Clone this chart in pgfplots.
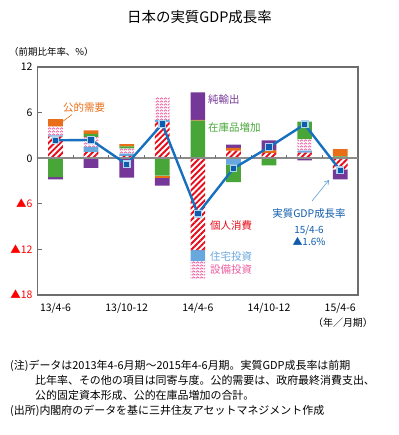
\documentclass[border=0pt]{standalone}
\usepackage{pgfplots}
\pgfplotsset{compat=1.18}
\usepackage{fontspec}
\setmainfont{Noto Sans CJK JP}
\usetikzlibrary{patterns,patterns.meta,arrows.meta}

\pgfdeclarepatternformonly{zigzag}{\pgfpointorigin}{\pgfpoint{4bp}{3.4bp}}{\pgfpoint{4bp}{3.4bp}}{%
  \pgfsetlinewidth{0.95bp}%
  \pgfpathmoveto{\pgfpoint{0bp}{0.9bp}}%
  \pgfpathlineto{\pgfpoint{2bp}{2.5bp}}%
  \pgfpathlineto{\pgfpoint{4bp}{0.9bp}}%
  \pgfusepath{stroke}}

\definecolor{cRed}{RGB}{232,10,25}
\definecolor{cBlue}{RGB}{105,168,222}
\definecolor{cPink}{RGB}{236,95,160}
\definecolor{cGreen}{RGB}{72,166,56}
\definecolor{cOrange}{RGB}{232,110,24}
\definecolor{cPurple}{RGB}{118,56,152}
\definecolor{cLine}{RGB}{22,112,192}
\definecolor{cMark}{RGB}{16,92,172}
\definecolor{cMarkB}{RGB}{175,212,242}
\definecolor{cFrame}{RGB}{110,110,110}

\pgfplotsset{
  geom/.style={width=320.3bp,height=228bp,scale only axis,
    at={(37.7bp,-295bp)},anchor=south west,
    xmin=-0.5,xmax=8.5,ymin=-18,ymax=12,enlargelimits=false},
  sred/.style={draw=none,pattern={Lines[angle=45,distance=4.2bp,line width=1.9bp]},pattern color=cRed},
  sblue/.style={draw=none,fill=cBlue},
  spink/.style={draw=none,pattern=zigzag,pattern color=cPink},
  sgreen/.style={draw=none,fill=cGreen},
  sorange/.style={draw=none,fill=cOrange},
  spurple/.style={draw=none,fill=cPurple},
}

\begin{document}
\begin{tikzpicture}
\useasboundingbox (0,0) rectangle (399bp,-435bp);

% positive contributions
\begin{axis}[geom, ybar stacked, bar width=14.7bp,
  axis line style={cFrame,line width=1.1bp},
  xtick={0,2,4,6,8},
  xticklabels={13/4-6,13/10-12,14/4-6,14/10-12,15/4-6},
  x tick style={draw=none},
  ytick={-18,-12,-6,0,6,12},
  yticklabels={\textcolor{red}{▲18},\textcolor{red}{▲12},\textcolor{red}{▲6},0,6,12},
  ytick pos=left, tick align=inside, major tick length=4bp,
  y tick style={cFrame,line width=0.9bp},
  xticklabel style={font=\fontsize{10.5}{12}\selectfont,anchor=base,inner sep=0pt,yshift=-16.5bp},
  yticklabel style={font=\fontsize{10.5}{12}\selectfont,anchor=base east,inner sep=0pt,xshift=-5bp,yshift=-3.8bp},
]
\addplot[sred] coordinates {(0,2.85) (1,0.8) (2,0.3) (3,4.75) (4,0) (5,1.0) (6,0.7) (7,0.75) (8,0)};
\addplot[sblue] coordinates {(0,0.15) (1,0.7) (2,0.3) (3,0.3) (4,0) (5,0) (6,0) (7,0.25) (8,0)};
\addplot[spink] coordinates {(0,1.2) (1,1.3) (2,0.7) (3,3.0) (4,0) (5,0) (6,0) (7,1.5) (8,0)};
\addplot[sgreen] coordinates {(0,0) (1,0.4) (2,0.25) (3,0) (4,4.95) (5,0) (6,0) (7,2.3) (8,0.25)};
\addplot[sorange] coordinates {(0,0.95) (1,0.45) (2,0.3) (3,0) (4,0.1) (5,0.35) (6,0.35) (7,0) (8,0.95)};
\addplot[spurple] coordinates {(0,0) (1,0) (2,0) (3,0) (4,3.6) (5,0.45) (6,1.3) (7,0) (8,0)};
\end{axis}

% negative contributions
\begin{axis}[geom, ybar stacked, bar width=14.7bp, hide axis]
\addplot[sred] coordinates {(0,0) (1,0) (2,0) (3,0) (4,-12.1) (5,0) (6,0) (7,0) (8,-1.5)};
\addplot[sblue] coordinates {(0,0) (1,0) (2,0) (3,0) (4,-1.45) (5,-0.85) (6,0) (7,0) (8,0)};
\addplot[spink] coordinates {(0,0) (1,0) (2,0) (3,0) (4,-2.3) (5,0) (6,0) (7,0) (8,0)};
\addplot[sgreen] coordinates {(0,-2.5) (1,0) (2,0) (3,-2.3) (4,0) (5,-2.3) (6,-0.95) (7,0) (8,0)};
\addplot[sorange] coordinates {(0,0) (1,0) (2,0) (3,-0.3) (4,0) (5,0) (6,0) (7,0) (8,0)};
\addplot[spurple] coordinates {(0,-0.3) (1,-1.27) (2,-2.55) (3,-1.0) (4,0) (5,0) (6,0) (7,-0.3) (8,-1.3)};
\end{axis}

% zero line and GDP growth line
\begin{axis}[geom, hide axis]
\addplot[cFrame!80,line width=1.6bp] coordinates {(-0.5,0) (8.5,0)};
\addplot[cFrame,line width=0.9bp] coordinates {(0.5,0) (0.5,0.45)};
\addplot[cFrame,line width=0.9bp] coordinates {(1.5,0) (1.5,0.45)};
\addplot[cFrame,line width=0.9bp] coordinates {(2.5,0) (2.5,0.45)};
\addplot[cFrame,line width=0.9bp] coordinates {(3.5,0) (3.5,0.45)};
\addplot[cFrame,line width=0.9bp] coordinates {(4.5,0) (4.5,0.45)};
\addplot[cFrame,line width=0.9bp] coordinates {(5.5,0) (5.5,0.45)};
\addplot[cFrame,line width=0.9bp] coordinates {(6.5,0) (6.5,0.45)};
\addplot[cFrame,line width=0.9bp] coordinates {(7.5,0) (7.5,0.45)};
\addplot[cLine,line width=2.4bp,mark=square*,mark size=3.3bp,
  mark options={fill=cMark,draw=cMarkB,line width=1.2bp}]
  coordinates {(0,2.35) (1,2.4) (2,-0.8) (3,4.5) (4,-7.3) (5,-1.35) (6,1.45) (7,4.45) (8,-1.6)};
\end{axis}

% texts
\node[font=\fontsize{14.5}{16}\selectfont] at (199.5bp,-17bp) {日本の実質GDP成長率};
\node[anchor=west,font=\fontsize{9.5}{11}\selectfont,inner sep=0pt] at (9bp,-52bp) {（前期比年率、\%）};
\node[anchor=center,font=\fontsize{10}{12}\selectfont] at (343bp,-323bp) {（年／月期）};

\node[anchor=west,inner sep=0pt,text=cOrange,font=\fontsize{10.5}{12}\selectfont] at (63bp,-108bp) {公的需要};
\draw[cOrange,line width=0.6bp] (72bp,-114.5bp) -- (62bp,-122bp);
\node[anchor=west,inner sep=0pt,text=cPurple,font=\fontsize{10.5}{12}\selectfont] at (208bp,-100bp) {純輸出};
\node[anchor=west,inner sep=0pt,text=cGreen,font=\fontsize{10.5}{12}\selectfont] at (208bp,-128bp) {在庫品増加};
\node[anchor=west,inner sep=0pt,text=cRed,font=\fontsize{10.5}{12}\selectfont] at (210bp,-225.5bp) {個人消費};
\node[anchor=west,inner sep=0pt,text=cBlue,font=\fontsize{10.5}{12}\selectfont] at (210bp,-256.5bp) {住宅投資};
\node[anchor=west,inner sep=0pt,text=cPink,font=\fontsize{10.5}{12}\selectfont] at (210bp,-270bp) {設備投資};

\node[text=cMark,font=\fontsize{10.5}{12}\selectfont] at (309bp,-214bp) {実質GDP成長率};
\node[text=cMark,font=\fontsize{10}{12}\selectfont] at (309bp,-230bp) {15/4-6};
\node[text=cMark,font=\fontsize{10}{12}\selectfont] at (309bp,-241.5bp) {▲1.6\%};
\draw[cLine!70,line width=0.6bp,-{Straight Barb[length=4bp,width=5bp]}] (312bp,-201bp) -- (329bp,-180bp);

% notes
\begin{scope}[every node/.style={anchor=base west,inner sep=0pt,font=\fontsize{11}{13}\selectfont}]
\node at (10bp,-369bp) {(注)データは2013年4-6月期～2015年4-6月期。実質GDP成長率は前期};
\node at (35bp,-384.3bp) {比年率、その他の項目は同寄与度。公的需要は、政府最終消費支出、};
\node at (35bp,-399.6bp) {公的固定資本形成、公的在庫品増加の合計。};
\node at (10bp,-414.9bp) {(出所)内閣府のデータを基に三井住友アセットマネジメント作成};
\end{scope}
\end{tikzpicture}
\end{document}
